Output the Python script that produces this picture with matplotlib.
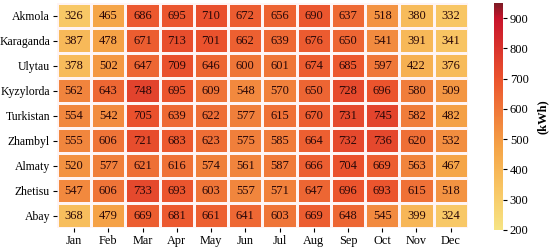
import matplotlib
matplotlib.use("Agg")
import matplotlib.pyplot as plt
import numpy as np
from matplotlib.colors import LinearSegmentedColormap

regions = ["Akmola", "Karaganda", "Ulytau", "Kyzylorda", "Turkistan",
           "Zhambyl", "Almaty", "Zhetisu", "Abay"]
months = ["Jan", "Feb", "Mar", "Apr", "May", "Jun",
          "Jul", "Aug", "Sep", "Oct", "Nov", "Dec"]

akmola    = [326, 465, 686, 695, 710, 672, 656, 690, 637, 518, 380, 332]
karaganda = [387, 478, 671, 713, 701, 662, 639, 676, 650, 541, 391, 341]
ulytau    = [378, 502, 647, 709, 646, 600, 601, 674, 685, 597, 422, 376]
kyzylorda = [562, 643, 748, 695, 609, 548, 570, 650, 728, 696, 580, 509]
turkistan = [554, 542, 705, 639, 622, 577, 615, 670, 731, 745, 582, 482]
zhambyl   = [555, 606, 721, 683, 623, 575, 585, 664, 732, 736, 620, 532]
almaty    = [520, 577, 621, 616, 574, 561, 587, 666, 704, 669, 563, 467]
zhetisu   = [547, 606, 733, 693, 603, 557, 571, 647, 696, 693, 615, 518]
abay      = [368, 479, 669, 681, 661, 641, 603, 669, 648, 545, 399, 324]

vals = np.array([akmola, karaganda, ulytau, kyzylorda, turkistan,
                 zhambyl, almaty, zhetisu, abay])

plt.rcParams["font.family"] = ["Liberation Serif", "DejaVu Serif"]

vmin, vmax = 200, 950
def p(v):
    return (v - vmin) / (vmax - vmin)

# yellow -> orange -> red -> dark red
cmap = LinearSegmentedColormap.from_list("heat", [
    (0.0, "#f6e484"),
    (p(330), "#f8c765"),
    (p(470), "#f5a447"),
    (p(700), "#eb532d"),
    (p(900), "#c8142c"),
    (1.0, "#7e1b25"),
])

fig = plt.figure(figsize=(5.5, 2.48), dpi=100)
ax = fig.add_axes([0.1036, 0.0806, 0.747, 0.907])
cax = fig.add_axes([0.898, 0.0726, 0.0164, 0.915])

mesh = ax.pcolormesh(vals, cmap=cmap, vmin=vmin, vmax=vmax,
                     edgecolors="#fff4f4", linewidth=0.8)
ax.set_xlim(0, len(months))
ax.set_ylim(len(regions), 0)
for i in range(len(regions)):
    for j in range(len(months)):
        ax.text(j + 0.5, i + 0.5, str(vals[i, j]), ha="center", va="center",
                fontsize=9, color="#2a0808")

ax.set_xticks(np.arange(len(months)) + 0.5)
ax.set_xticklabels(months, fontsize=8.8)
ax.set_yticks(np.arange(len(regions)) + 0.5)
ax.set_yticklabels(regions, fontsize=8.5)
ax.tick_params(length=3, width=0.8, pad=2)
for s in ax.spines.values():
    s.set_visible(False)

cb = fig.colorbar(mesh, cax=cax)
cb.outline.set_visible(False)
cb.set_ticks([200, 300, 400, 500, 600, 700, 800, 900])
cb.ax.tick_params(labelsize=9, length=3, width=0.8, pad=2)
cb.set_label("(kWh)", fontsize=9, fontweight="bold", labelpad=6)

fig.savefig("out.png", dpi=100)
